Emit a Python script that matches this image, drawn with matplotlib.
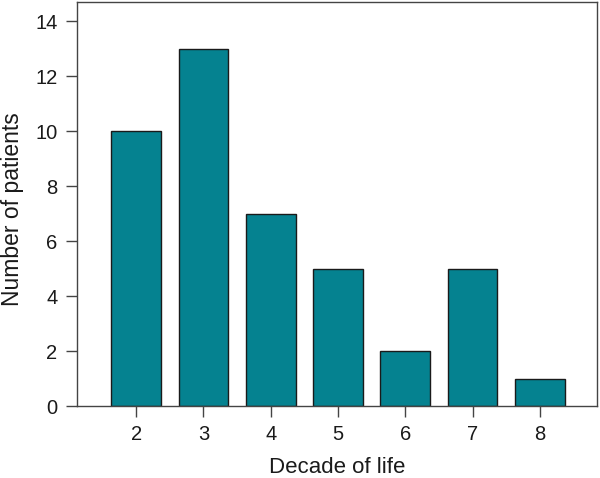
import matplotlib
matplotlib.use("Agg")
import matplotlib.pyplot as plt

decades = [2, 3, 4, 5, 6, 7, 8]
patients = [10, 13, 7, 5, 2, 5, 1]
yticks = [0, 2, 4, 6, 8, 10, 12, 14]

plt.rcParams['font.family'] = ['Liberation Sans', 'DejaVu Sans']
fig = plt.figure(figsize=(6.0, 4.78), dpi=100)
ax = fig.add_axes([77/600, 1 - 406/478, 520/600, 404/478])
ax.bar(decades, patients, width=0.74, color='#058290', edgecolor='#1a1a1a', linewidth=1.0, zorder=2)
ax.set_xlim(1.12, 8.85)
ax.set_ylim(0, 14.7)
ax.set_xticks(decades)
ax.set_yticks(yticks)
ax.tick_params(axis='both', direction='out', length=8, width=1.0, color='#444444', labelsize=14.5, labelcolor='#1a1a1a', pad=6)
for s in ax.spines.values():
    s.set_color('#444444')
    s.set_linewidth(1.0)
ax.set_xlabel('Decade of life', fontsize=16, color='#1a1a1a', labelpad=9)
ax.set_ylabel('Number of patients', fontsize=16.5, color='#1a1a1a')
ax.yaxis.set_label_coords(-0.102, 0.487)
fig.savefig('out.png', dpi=100)
